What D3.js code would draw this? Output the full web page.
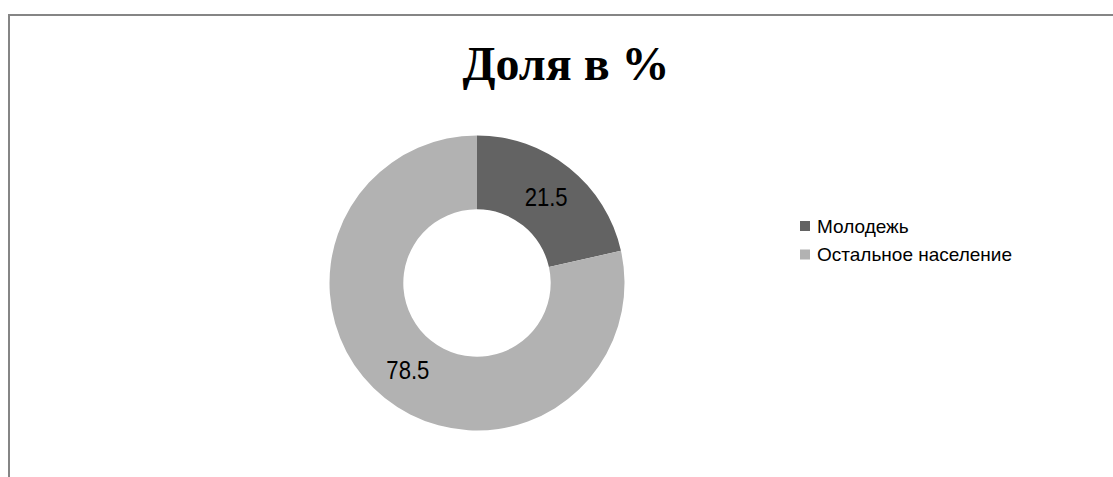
<!DOCTYPE html>
<html>
<head>
<meta charset="utf-8">
<script src="https://cdn.jsdelivr.net/npm/d3@7"></script>
<style>
  html, body { margin: 0; padding: 0; background: #fff; }
  svg { display: block; }
</style>
</head>
<body>
<svg id="chart" width="1113" height="477"></svg>
<script>
// Share of youth in the total population, %
const categories = ["Молодежь", "Остальное население"];
const values = [21.5, 78.5];
const colors = ["#636363", "#b2b2b2"];
const title = "Доля в %";

const svg = d3.select("#chart");
const W = 1113, H = 477;

// chart frame (left and top edges visible)
svg.append("rect")
  .attr("x", 9).attr("y", 15)
  .attr("width", W + 20).attr("height", H + 20)
  .attr("fill", "#fff")
  .attr("stroke", "#858585")
  .attr("stroke-width", 2);

// title
svg.append("text")
  .attr("x", 566).attr("y", 80)
  .attr("text-anchor", "middle")
  .attr("font-family", "'Liberation Serif', 'Times New Roman', serif")
  .attr("font-weight", "bold")
  .attr("font-size", 48)
  .attr("fill", "#000")
  .text(title);

// donut
const cx = 477, cy = 283, outerR = 147.5, innerR = 73.7;
const pie = d3.pie().sort(null).value(d => d.value);
const arc = d3.arc().innerRadius(innerR).outerRadius(outerR);
const data = categories.map((c, i) => ({ name: c, value: values[i], color: colors[i] }));
const arcs = pie(data);

const g = svg.append("g").attr("transform", `translate(${cx},${cy})`);
g.selectAll("path.slice")
  .data(arcs)
  .join("path")
  .attr("class", "slice")
  .attr("d", arc)
  .attr("fill", d => d.data.color);

// value labels, slightly condensed
g.selectAll("text.val")
  .data(arcs)
  .join("text")
  .attr("class", "val")
  .attr("transform", d => `translate(${arc.centroid(d)}) scale(0.85,1)`)
  .attr("text-anchor", "middle")
  .attr("dy", "0.36em")
  .attr("font-family", "'Liberation Sans', Arial, sans-serif")
  .attr("font-size", 26)
  .attr("fill", "#000")
  .text(d => d3.format(".1f")(d.data.value));

// legend
const legend = svg.append("g").attr("transform", "translate(800,221)");
const items = legend.selectAll("g.item")
  .data(data)
  .join("g")
  .attr("class", "item")
  .attr("transform", (d, i) => `translate(0,${i * 28.5})`);
items.append("rect")
  .attr("width", 10).attr("height", 10)
  .attr("fill", d => d.color);
items.append("text")
  .attr("x", 17).attr("y", 5)
  .attr("dy", "0.36em")
  .attr("font-family", "'Liberation Sans', Arial, sans-serif")
  .attr("font-size", 19)
  .attr("fill", "#000")
  .text(d => d.name);
</script>
</body>
</html>
